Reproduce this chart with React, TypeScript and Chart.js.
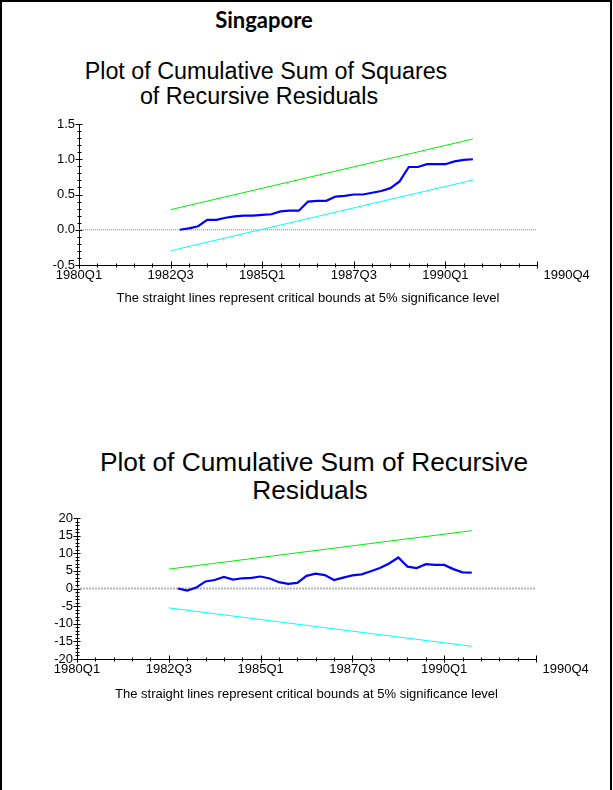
import React, { useEffect, useRef } from "react";
import { Chart, registerables } from "chart.js";

Chart.register(...registerables);
Chart.defaults.font.family = '"Liberation Sans", Arial, sans-serif';

// ---- data ----
const countryName = "Singapore";
const quarterTickLabels = ["1980Q1", "1982Q3", "1985Q1", "1987Q3", "1990Q1", "1990Q4"];
const quarterTickIndex = [0, 10, 20, 30, 40, 50];
const residualStartIndex = 11;
const boundIndex = [10, 43];
const footnoteText = "The straight lines represent critical bounds at 5% significance level";

const cusumsqTitle = ["Plot of Cumulative Sum of Squares", "of Recursive Residuals"];
const cusumsqValues = [
  0, 0.02, 0.05, 0.14, 0.14, 0.17, 0.19, 0.2, 0.2, 0.21, 0.22, 0.26, 0.27, 0.27, 0.4, 0.41, 0.41,
  0.47, 0.48, 0.5, 0.5, 0.525, 0.55, 0.59, 0.685, 0.89, 0.89, 0.93, 0.93, 0.93, 0.97, 0.99, 1.0,
];
const cusumsqUpper = [0.285, 1.287];
const cusumsqLower = [-0.298, 0.705];

const cusumTitle = ["Plot of Cumulative Sum of Recursive", "Residuals"];
const cusumValues = [
  0, -0.6, 0.3, 2.0, 2.4, 3.3, 2.55, 2.9, 3.0, 3.4, 2.85, 1.8, 1.3, 1.6, 3.6, 4.2, 3.8, 2.4, 3.1,
  3.7, 4.0, 4.9, 5.8, 7.1, 8.8, 6.2, 5.8, 6.9, 6.7, 6.7, 5.5, 4.6, 4.5,
];
const cusumUpper = [5.5, 16.4];
const cusumLower = [-5.5, -16.4];

type Area = { left: number; right: number; top: number; bottom: number };

interface PlotProps {
  values: number[];
  upper: number[];
  lower: number[];
  yMin: number;
  yMax: number;
  yStep: number;
  yMinor: number;
  decimals: number;
  zeroColor: string;
  zeroWidth: number;
  zeroDash: number[];
  boxTop: number;
  boxHeight: number;
  area: Area;
  footY: number;
}

const PAGE_W = 612;
const FOOT_SIZE = 13;
const TICK_SIZE = 13;

function Plot(p: PlotProps) {
  const ref = useRef<HTMLCanvasElement | null>(null);
  useEffect(() => {
    if (!ref.current) return;
    const line = p.values.map((v, i) => ({ x: residualStartIndex + i, y: v }));
    const up = boundIndex.map((x, i) => ({ x, y: p.upper[i] }));
    const lo = boundIndex.map((x, i) => ({ x, y: p.lower[i] }));
    const zero = [
      { x: quarterTickIndex[0], y: 0 },
      { x: quarterTickIndex[quarterTickIndex.length - 1], y: 0 },
    ];
    const lastIdx = quarterTickIndex.length - 1;
    const footLH = FOOT_SIZE * 1.2;
    const footPad = p.boxTop + p.boxHeight - p.footY - footLH / 2;

    const marks = {
      id: "axisMarks",
      afterDraw(chart: any) {
        const { ctx, chartArea, scales } = chart;
        const xs = scales.x;
        const ys = scales.y;
        ctx.save();
        ctx.strokeStyle = "#000";
        ctx.lineWidth = 1;
        const ax = Math.round(chartArea.left) + 0.5;
        const n = Math.round((p.yMax - p.yMin) / p.yMinor);
        for (let k = 0; k <= n; k++) {
          const v = p.yMin + k * p.yMinor;
          const r = v / p.yStep;
          const major = Math.abs(r - Math.round(r)) < 1e-6;
          const py = Math.round(ys.getPixelForValue(v)) + 0.5;
          ctx.beginPath();
          ctx.moveTo(ax - (major ? 4 : 2), py);
          ctx.lineTo(ax + (major ? 3 : 2), py);
          ctx.stroke();
        }
        const ay = Math.round(chartArea.bottom) + 0.5;
        const x0 = quarterTickIndex[0];
        const x1 = quarterTickIndex[lastIdx];
        for (let v = x0; v <= x1; v += 2) {
          const major = quarterTickIndex.indexOf(v) >= 0;
          const px = Math.round(xs.getPixelForValue(v)) + 0.5;
          ctx.beginPath();
          ctx.moveTo(px, ay - (major ? 4 : 2));
          ctx.lineTo(px, ay + (major ? 3 : 2));
          ctx.stroke();
        }
        // last quarter label, drawn to the right of its tick
        ctx.fillStyle = "#000";
        ctx.font = `${TICK_SIZE}px "Liberation Sans", Arial, sans-serif`;
        ctx.textAlign = "left";
        ctx.textBaseline = "middle";
        const lx = xs.getPixelForValue(x1) + 6.5;
        const ly = chartArea.bottom + 3 + (TICK_SIZE * 1.2) / 2;
        ctx.fillText(quarterTickLabels[lastIdx], lx, ly);
        ctx.restore();
      },
    };

    const chart = new Chart(ref.current, {
      type: "line",
      data: {
        datasets: [
          { data: line, borderColor: "#0000ff", borderWidth: 2.2, pointRadius: 0, tension: 0, order: 0 },
          { data: up, borderColor: "#00ee00", borderWidth: 1, pointRadius: 0, order: 1 },
          { data: lo, borderColor: "#00ffff", borderWidth: 1, pointRadius: 0, order: 1 },
          {
            data: zero,
            borderColor: p.zeroColor,
            borderWidth: p.zeroWidth,
            borderDash: p.zeroDash,
            pointRadius: 0,
            order: 3,
          },
        ],
      },
      options: {
        animation: false,
        responsive: false,
        events: [],
        layout: {
          padding: {
            left: 0,
            right: PAGE_W - p.area.right,
            top: p.area.top - p.boxTop,
            bottom: 0,
          },
        },
        plugins: { legend: { display: false }, tooltip: { enabled: false }, title: { display: false } },
        scales: {
          x: {
            type: "linear",
            min: quarterTickIndex[0],
            max: quarterTickIndex[lastIdx],
            afterBuildTicks: (s: any) => {
              s.ticks = quarterTickIndex.map((v) => ({ value: v }));
            },
            afterFit: (s: any) => {
              s.height = p.boxTop + p.boxHeight - p.area.bottom;
            },
            ticks: {
              autoSkip: false,
              maxRotation: 0,
              padding: 3,
              color: "#000",
              font: { size: TICK_SIZE },
              callback: (v: any) => {
                const k = quarterTickIndex.indexOf(Number(v));
                return k < 0 || k === lastIdx ? "" : quarterTickLabels[k];
              },
            },
            grid: { display: false, drawTicks: false },
            border: { display: true, color: "#000", width: 1 },
            title: {
              display: true,
              text: footnoteText,
              color: "#000",
              font: { size: FOOT_SIZE },
              padding: { top: 0, bottom: footPad },
            },
          },
          y: {
            type: "linear",
            min: p.yMin,
            max: p.yMax,
            afterFit: (s: any) => {
              s.width = p.area.left;
            },
            ticks: {
              stepSize: p.yStep,
              autoSkip: false,
              padding: 4,
              color: "#000",
              font: { size: TICK_SIZE },
              callback: (v: any) => Number(v).toFixed(p.decimals),
            },
            grid: { display: false, drawTicks: false },
            border: { display: true, color: "#000", width: 1 },
          },
        },
      },
      plugins: [marks],
    } as any);
    return () => chart.destroy();
  }, []);
  return (
    <canvas
      ref={ref}
      width={PAGE_W}
      height={p.boxHeight}
      style={{ position: "absolute", left: 0, top: p.boxTop, width: PAGE_W, height: p.boxHeight }}
    />
  );
}

const titleFont = '"Liberation Sans", Arial, sans-serif';

function TitleLine(props: { text: string; cx: number; baseline: number; size: number }) {
  const w = 600;
  const asc = 0.905 * props.size;
  return (
    <div
      style={{
        position: "absolute",
        left: props.cx - w / 2,
        width: w,
        top: props.baseline - asc,
        textAlign: "center",
        fontFamily: titleFont,
        fontSize: props.size,
        lineHeight: `${Math.round(props.size * 1.2)}px`,
        whiteSpace: "nowrap",
        color: "#000",
      }}
    >
      {props.text}
    </div>
  );
}

export default function App() {
  return (
    <div style={{ position: "absolute", left: 0, top: 0, width: PAGE_W, height: 790, background: "#fff" }}>
      <div
        style={{
          position: "absolute",
          left: 0,
          top: 0,
          width: PAGE_W,
          height: 790,
          boxSizing: "border-box",
          border: "2px solid #000",
          borderBottom: "none",
        }}
      />
      <div
        style={{
          position: "absolute",
          left: 0,
          width: 528,
          top: 7,
          textAlign: "center",
          fontFamily: "Lato, 'Open Sans', sans-serif",
          fontWeight: 700,
          fontSize: 22,
          lineHeight: "26px",
          color: "#000",
        }}
      >
        {countryName}
      </div>
      <TitleLine text={cusumsqTitle[0]} cx={266} baseline={78} size={23.3} />
      <TitleLine text={cusumsqTitle[1]} cx={259} baseline={103} size={23.3} />
      <Plot
        values={cusumsqValues}
        upper={cusumsqUpper}
        lower={cusumsqLower}
        yMin={-0.5}
        yMax={1.5}
        yStep={0.5}
        yMinor={0.1}
        decimals={1}
        zeroColor="#8c8c8c"
        zeroWidth={1}
        zeroDash={[1, 1]}
        boxTop={110}
        boxHeight={200}
        area={{ left: 79, right: 537, top: 124, bottom: 265 }}
        footY={298}
      />
      <TitleLine text={cusumTitle[0]} cx={314} baseline={470} size={26.3} />
      <TitleLine text={cusumTitle[1]} cx={310} baseline={498} size={26.3} />
      <Plot
        values={cusumValues}
        upper={cusumUpper}
        lower={cusumLower}
        yMin={-20}
        yMax={20}
        yStep={5}
        yMinor={1}
        decimals={0}
        zeroColor="#b4b4b4"
        zeroWidth={2}
        zeroDash={[2, 1]}
        boxTop={500}
        boxHeight={210}
        area={{ left: 77, right: 536, top: 518, bottom: 659 }}
        footY={694}
      />
    </div>
  );
}
